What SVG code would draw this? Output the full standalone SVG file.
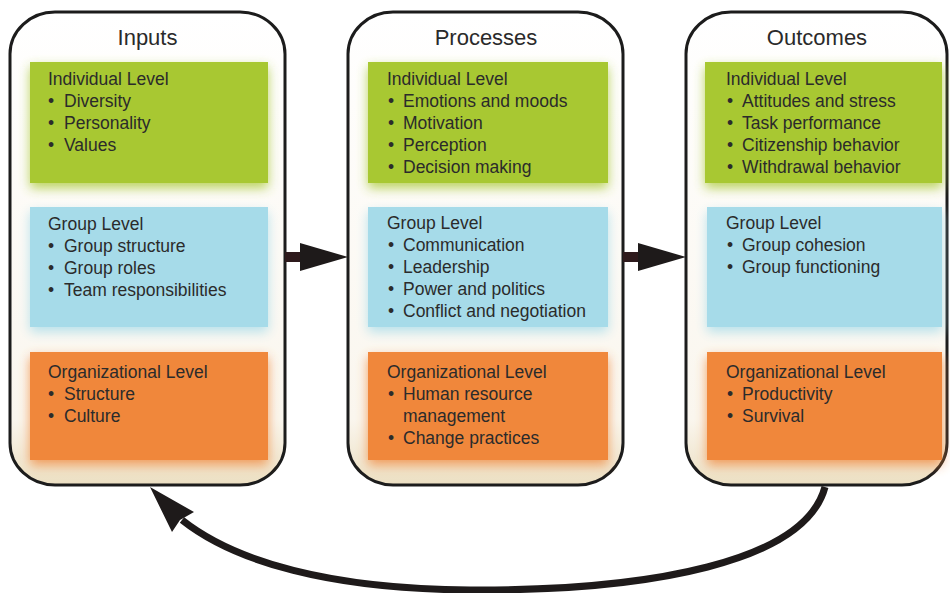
<svg xmlns="http://www.w3.org/2000/svg" width="950" height="593" viewBox="0 0 950 593">
<defs>
<linearGradient id="colfill" x1="0" y1="0" x2="0" y2="1">
<stop offset="0" stop-color="#ffffff"/>
<stop offset="0.86" stop-color="#faf6ee"/>
<stop offset="1" stop-color="#ecdfc2"/>
</linearGradient>
<filter id="glow" x="-10%" y="-15%" width="120%" height="135%">
<feGaussianBlur in="SourceGraphic" stdDeviation="6" result="b"/>
<feOffset in="b" dy="5" result="o"/>
<feComponentTransfer in="o" result="t"><feFuncA type="linear" slope="0.8"/></feComponentTransfer>
<feMerge><feMergeNode in="t"/><feMergeNode in="SourceGraphic"/></feMerge>
</filter>
</defs>
<style>
.col{fill:url(#colfill);stroke:#1c1c1c;stroke-width:3}
.title{font-family:"Liberation Sans",Arial,sans-serif;font-size:22px;fill:#2a2a2a;text-anchor:middle}
.t{font-family:"Liberation Sans",Arial,sans-serif;font-size:17.5px;fill:#2b2b2b}
.green{fill:#a8c831}
.blue{fill:#a6dbe9}
.orange{fill:#f0873a}
.conn{fill:#1e1a1a}
</style>

<g id="inputs">
<rect class="col" x="10" y="12" width="275" height="473" rx="45" ry="42"/>
<text class="title" x="147.5" y="45">Inputs</text>
<rect class="green" x="30" y="62" width="238" height="121" filter="url(#glow)"/>
<rect class="blue" x="30" y="207" width="238" height="120" filter="url(#glow)"/>
<rect class="orange" x="30" y="352" width="238" height="108" filter="url(#glow)"/>
<text class="t" x="48" y="85">Individual Level</text>
<text class="t" y="107"><tspan x="48">•</tspan><tspan x="64">Diversity</tspan></text>
<text class="t" y="129"><tspan x="48">•</tspan><tspan x="64">Personality</tspan></text>
<text class="t" y="151"><tspan x="48">•</tspan><tspan x="64">Values</tspan></text>
<text class="t" x="48" y="230">Group Level</text>
<text class="t" y="252"><tspan x="48">•</tspan><tspan x="64">Group structure</tspan></text>
<text class="t" y="274"><tspan x="48">•</tspan><tspan x="64">Group roles</tspan></text>
<text class="t" y="296"><tspan x="48">•</tspan><tspan x="64">Team responsibilities</tspan></text>
<text class="t" x="48" y="378">Organizational Level</text>
<text class="t" y="400"><tspan x="48">•</tspan><tspan x="64">Structure</tspan></text>
<text class="t" y="422"><tspan x="48">•</tspan><tspan x="64">Culture</tspan></text>
</g>

<g id="processes">
<rect class="col" x="348" y="12" width="275" height="473" rx="45" ry="42"/>
<text class="title" x="486" y="45">Processes</text>
<rect class="green" x="368" y="62" width="240" height="121" filter="url(#glow)"/>
<rect class="blue" x="368" y="207" width="240" height="120" filter="url(#glow)"/>
<rect class="orange" x="368" y="352" width="240" height="108" filter="url(#glow)"/>
<text class="t" x="387" y="85">Individual Level</text>
<text class="t" y="107"><tspan x="388">•</tspan><tspan x="403">Emotions and moods</tspan></text>
<text class="t" y="129"><tspan x="388">•</tspan><tspan x="403">Motivation</tspan></text>
<text class="t" y="151"><tspan x="388">•</tspan><tspan x="403">Perception</tspan></text>
<text class="t" y="173"><tspan x="388">•</tspan><tspan x="403">Decision making</tspan></text>
<text class="t" x="387" y="229">Group Level</text>
<text class="t" y="251"><tspan x="388">•</tspan><tspan x="403">Communication</tspan></text>
<text class="t" y="273"><tspan x="388">•</tspan><tspan x="403">Leadership</tspan></text>
<text class="t" y="295"><tspan x="388">•</tspan><tspan x="403">Power and politics</tspan></text>
<text class="t" y="317"><tspan x="388">•</tspan><tspan x="403">Conflict and negotiation</tspan></text>
<text class="t" x="387" y="378">Organizational Level</text>
<text class="t" y="400"><tspan x="388">•</tspan><tspan x="403">Human resource</tspan></text>
<text class="t" x="403" y="422">management</text>
<text class="t" y="444"><tspan x="388">•</tspan><tspan x="403">Change practices</tspan></text>
</g>

<g id="outcomes">
<rect class="col" x="686" y="12" width="261" height="473" rx="45" ry="42"/>
<text class="title" x="817" y="45">Outcomes</text>
<rect class="green" x="705" y="62" width="237" height="121" filter="url(#glow)"/>
<rect class="blue" x="707" y="207" width="235" height="120" filter="url(#glow)"/>
<rect class="orange" x="707" y="352" width="235" height="108" filter="url(#glow)"/>
<text class="t" x="726" y="85">Individual Level</text>
<text class="t" y="107"><tspan x="727">•</tspan><tspan x="742">Attitudes and stress</tspan></text>
<text class="t" y="129"><tspan x="727">•</tspan><tspan x="742">Task performance</tspan></text>
<text class="t" y="151"><tspan x="727">•</tspan><tspan x="742">Citizenship behavior</tspan></text>
<text class="t" y="173"><tspan x="727">•</tspan><tspan x="742">Withdrawal behavior</tspan></text>
<text class="t" x="726" y="229">Group Level</text>
<text class="t" y="251"><tspan x="727">•</tspan><tspan x="742">Group cohesion</tspan></text>
<text class="t" y="273"><tspan x="727">•</tspan><tspan x="742">Group functioning</tspan></text>
<text class="t" x="726" y="378">Organizational Level</text>
<text class="t" y="400"><tspan x="727">•</tspan><tspan x="742">Productivity</tspan></text>
<text class="t" y="422"><tspan x="727">•</tspan><tspan x="742">Survival</tspan></text>
</g>

<g id="connectors">
<rect x="285" y="252" width="17" height="10" fill="#2e1a1c"/>
<polygon class="conn" points="300,243 348,257 300,271"/>
<rect x="623" y="252" width="17" height="10" fill="#2e1a1c"/>
<polygon class="conn" points="638,243 686,257 638,271"/>
<path d="M 825 487 C 805 562 650 591 470 590 C 330 589 235 562 182 520" fill="none" stroke="#1e1a1a" stroke-width="7"/>
<polygon class="conn" points="150,487 194,512 180,520 172,532"/>
</g>
</svg>
